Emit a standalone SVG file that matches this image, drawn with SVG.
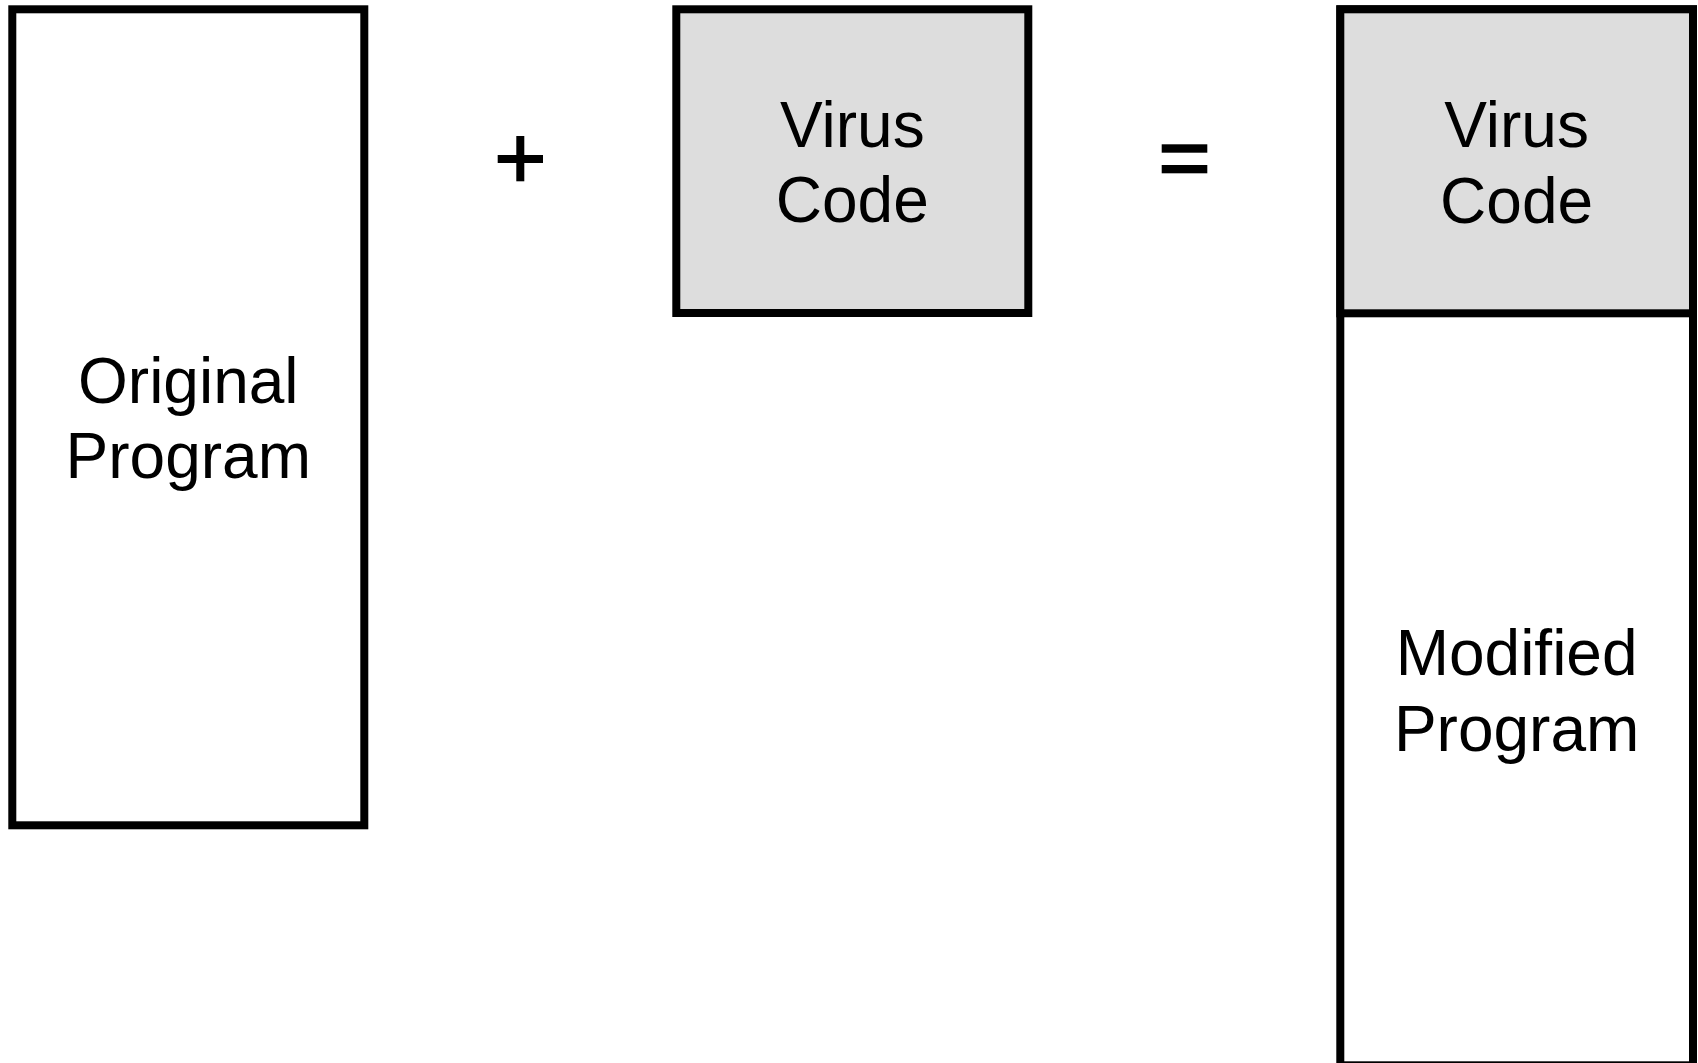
<svg xmlns="http://www.w3.org/2000/svg" width="1698" height="1063" viewBox="0 0 1698 1063">
<style>
.box{fill:#ffffff;stroke:#000000;stroke-width:8}
.virus{fill:#dddddd;stroke:#000000;stroke-width:8}
.lbl{font-family:"Liberation Sans",Arial,sans-serif;font-size:64px;fill:#000000;text-anchor:middle}
.op{fill:#000000}
</style>
<rect width="1698" height="1063" fill="#ffffff"/>
<g id="original-program">
<rect class="box" x="12.3" y="9.3" width="352" height="816"/>
<text class="lbl" x="188.3" y="402.5">Original</text>
<text class="lbl" x="188.3" y="478.3">Program</text>
</g>
<g id="plus">
<rect class="op" x="516.3" y="136" width="8" height="45.3"/>
<rect class="op" x="497.7" y="155" width="45.3" height="8"/>
</g>
<g id="virus-code">
<rect class="virus" x="676.3" y="9.3" width="352" height="303.7"/>
<text class="lbl" x="852.3" y="146.7">Virus</text>
<text class="lbl" x="852.3" y="222.3">Code</text>
</g>
<g id="equals">
<rect class="op" x="1161.7" y="144.3" width="45.6" height="8.4"/>
<rect class="op" x="1161.7" y="165" width="45.6" height="8.3"/>
</g>
<g id="modified-program">
<rect class="box" x="1340.3" y="9.3" width="352.7" height="1056"/>
<rect class="virus" x="1340.3" y="9.3" width="352.7" height="304"/>
<text class="lbl" x="1516.6" y="146.7">Virus</text>
<text class="lbl" x="1516.6" y="222.8">Code</text>
<text class="lbl" x="1516.6" y="675">Modified</text>
<text class="lbl" x="1516.6" y="750.7">Program</text>
</g>
<g id="connectors"></g>
</svg>
